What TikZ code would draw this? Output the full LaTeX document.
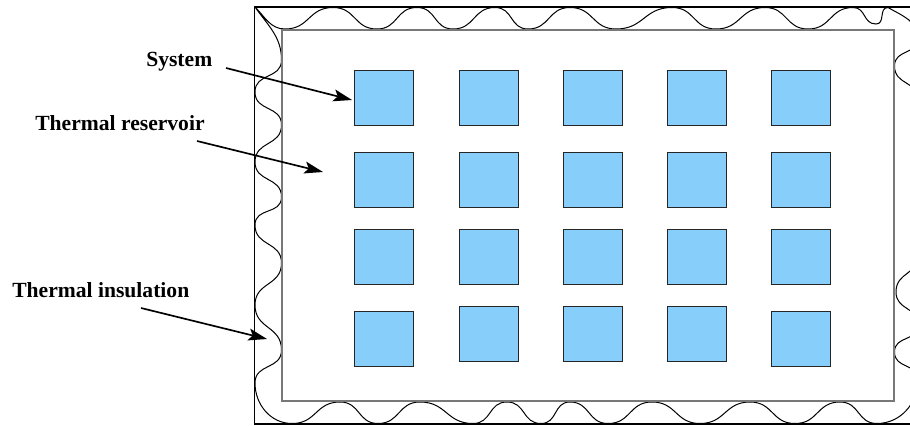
\documentclass[tikz,border=0pt]{standalone}
\usepackage{fontspec}
\setmainfont{Liberation Serif}
\usetikzlibrary{arrows.meta}
\definecolor{sky}{RGB}{135,206,250}
\definecolor{rimgray}{RGB}{120,120,120}
\tikzset{
  sq/.style={draw=black!85, fill=sky, line width=0.7pt, minimum width=44.25pt, minimum height=41.25pt, inner sep=0pt, outer sep=0pt},
  lbl/.style={font=\fontsize{16.2}{19}\selectfont\bfseries, inner sep=0pt, anchor=base west},
  pointer/.style={line width=1.25pt, -{Stealth[length=14pt, width=9pt, inset=3pt]}},
  wave/.style={line width=0.75pt},
  wr/.style={out=0, in=180, looseness=1.2},
  wl/.style={out=180, in=0, looseness=1.2},
  wd/.style={out=-90, in=90, looseness=1.2},
  wu/.style={out=90, in=-90, looseness=1.2}
}
\begin{document}
\begin{tikzpicture}[x=0.75pt, y=-0.75pt]
\useasboundingbox (0,0) rectangle (910,425);
\clip (0,0) rectangle (910,425);
% outer box
\draw[line width=0.8pt] (254.5,7) rectangle (930,424);
% insulation wave
\draw[wave] (255,7) to[out=-45,in=180] (285,29)
  to[wr] (333,7.5) to[wr] (377,29) to[wr] (417,7.5) to[wr] (453,29)
  to[wr] (495,7.5) to[wr] (528,29) to[wr] (570,7.5) to[wr] (616,29)
  to[wr] (672,7.5) to[wr] (716,29) to[wr] (765,7.5) to[wr] (808,29)
  to[wr] (853,7.5) to[wr] (876,24) to[wr] (888,7.5)
  to[out=-30,in=90] (918,38) to[wd] (894.5,66) to[wd] (918,100)
  -- (918,255) to[wd] (896,292) to[wd] (918,325) to[wd] (894.5,352) to[wd] (918,380)
  to[out=-90,in=0] (877,423.5)
  to[wl] (840,402) to[wl] (795,423.5) to[wl] (750,402) to[wl] (700,423.5)
  to[wl] (652,402) to[wl] (608,423.5) to[wl] (570,402) to[wl] (541,423.5)
  to[wl] (507,402) to[wl] (473,423.5) to[wl] (420,402) to[wl] (378,423.5)
  to[wl] (340,402) to[wl] (292,423.5)
  to[out=180,in=-90] (255,383)
  to[wu] (281.5,350) to[wu] (255,305) to[wu] (281.5,263) to[wu] (255,225)
  to[wu] (281.5,197) to[wu] (255,162) to[wu] (281.5,125) to[wu] (255,92)
  to[wu] (281.5,60) to[out=90,in=-55] (255,7) -- cycle;
% inner box (reservoir)
\draw[rimgray, line width=1pt] (282,30) rectangle (894,401);
% systems
\node[sq] (s11) at (383.5,97.5) {};
\node[sq] (s12) at (488.5,97.5) {};
\node[sq] (s13) at (592.5,97.5) {};
\node[sq] (s14) at (696.5,97.5) {};
\node[sq] (s15) at (800.5,97.5) {};
\node[sq] (s21) at (383.5,179.5) {};
\node[sq] (s22) at (488.5,179.5) {};
\node[sq] (s23) at (592.5,179.5) {};
\node[sq] (s24) at (696.5,179.5) {};
\node[sq] (s25) at (800.5,179.5) {};
\node[sq] (s31) at (383.5,256.5) {};
\node[sq] (s32) at (488.5,256.5) {};
\node[sq] (s33) at (592.5,256.5) {};
\node[sq] (s34) at (696.5,256.5) {};
\node[sq] (s35) at (800.5,256.5) {};
\node[sq] (s41) at (383.5,338.5) {};
\node[sq] (s42) at (488.5,333.5) {};
\node[sq] (s43) at (592.5,333.5) {};
\node[sq] (s44) at (696.5,333.5) {};
\node[sq] (s45) at (800.5,338.5) {};
% labels
\node[lbl] (lsys) at (146,66) {System};
\node[lbl] (lres) at (35,130) {Thermal reservoir};
\node[lbl] (lins) at (12,297) {Thermal insulation};
% arrow ends
\coordinate (aS) at (226,68);
\coordinate (eS) at (352,100);
\coordinate (aR) at (197,141);
\coordinate (eR) at (323,172);
\coordinate (aI) at (141,308);
\coordinate (eI) at (267,339);
\draw[pointer] (aS) -- (eS);
\draw[pointer] (aR) -- (eR);
\draw[pointer] (aI) -- (eI);
\end{tikzpicture}
\end{document}
